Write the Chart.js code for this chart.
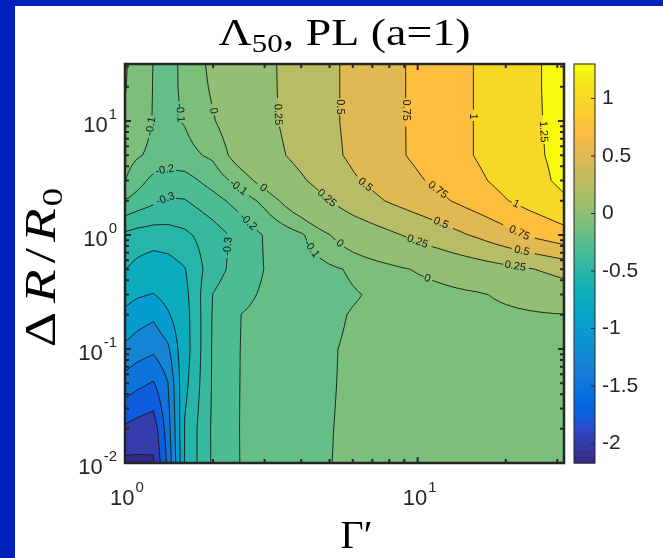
<!DOCTYPE html>
<html>
<head>
<meta charset="utf-8">
<script src="https://cdn.jsdelivr.net/npm/chart.js@4"></script>
<style>
  html, body { margin: 0; padding: 0; }
  body { width: 663px; height: 558px; background: #0021b9; position: relative; overflow: hidden; }
  #wrap { position: absolute; left: 15px; top: 6px; width: 648px; height: 552px; background: #fff; }
</style>
</head>
<body>
<div id="wrap"><canvas id="chart" width="648" height="552"></canvas></div>
<script>
// --- data grid ---
const gammaVals = [1, 1.1, 1.25, 1.4, 1.6, 2, 2.5, 3, 4, 6, 8, 12, 16, 24, 31.62];
const dRVals = [0.01, 0.02, 0.05, 0.1, 0.2, 0.3, 0.5, 1, 2, 3, 5, 10, 20, 31.62];
// Lambda_50, one row per dRVals entry (bottom row first), one column per gammaVals entry
const lambdaVals = [
  [-2.06, -2.05, -2.03, -1.45, -0.49, -0.283, -0.195, -0.164, -0.115, -0.09, -0.075, -0.06, -0.05, -0.04, -0.035],
  [-1.79, -1.85, -1.9, -1.375, -0.49, -0.282, -0.194, -0.164, -0.117, -0.09, -0.075, -0.06, -0.05, -0.04, -0.035],
  [-1.36, -1.44, -1.52, -1.26, -0.53, -0.286, -0.195, -0.167, -0.122, -0.09, -0.075, -0.06, -0.05, -0.04, -0.03],
  [-1.05, -1.13, -1.2, -1.05, -0.55, -0.286, -0.196, -0.169, -0.125, -0.09, -0.075, -0.06, -0.045, -0.03, -0.02],
  [-0.8, -0.88, -0.95, -0.78, -0.544, -0.29, -0.199, -0.176, -0.139, -0.095, -0.078, -0.055, -0.038, -0.015, -0.003],
  [-0.664, -0.72, -0.76, -0.66, -0.53, -0.297, -0.224, -0.187, -0.154, -0.107, -0.079, -0.042, -0.015, 0.056, 0.119],
  [-0.498, -0.53, -0.56, -0.55, -0.505, -0.342, -0.251, -0.198, -0.152, -0.088, -0.036, 0.052, 0.128, 0.233, 0.327],
  [-0.42, -0.44, -0.45, -0.44, -0.42, -0.346, -0.263, -0.193, -0.113, 0.086, 0.207, 0.39, 0.534, 0.777, 0.913],
  [-0.205, -0.24, -0.28, -0.31, -0.305, -0.238, -0.154, -0.071, 0.106, 0.369, 0.52, 0.707, 0.868, 1.087, 1.22],
  [-0.098, -0.16, -0.23, -0.25, -0.24, -0.158, -0.055, 0.051, 0.222, 0.47, 0.616, 0.81, 0.96, 1.163, 1.3],
  [-0.06, -0.09, -0.12, -0.14, -0.13, -0.082, 0.071, 0.16, 0.315, 0.543, 0.688, 0.879, 1.015, 1.2, 1.31],
  [-0.01, -0.05, -0.105, -0.12, -0.094, -0.009, 0.1, 0.194, 0.346, 0.552, 0.69, 0.879, 1.015, 1.205, 1.32],
  [0.005, -0.045, -0.103, -0.118, -0.088, 0.018, 0.118, 0.2, 0.346, 0.552, 0.69, 0.879, 1.015, 1.205, 1.33],
  [0.01, -0.04, -0.102, -0.115, -0.0895, 0.033, 0.127, 0.203, 0.346, 0.552, 0.69, 0.879, 1.015, 1.205, 1.33]
];
const levels = [-2, -1.75, -1.5, -1.25, -1, -0.75, -0.5, -0.4, -0.3, -0.2, -0.1, 0, 0.25, 0.5, 0.75, 1, 1.25];
const labelLevels = [-0.3, -0.2, -0.1, 0, 0.25, 0.5, 0.75, 1, 1.25];
const xTicks = [1, 10];
const xTickExp = ['0', '1'];
const yTicks = [0.01, 0.1, 1, 10];
const yTickExp = ['-2', '-1', '0', '1'];
const cbarTicks = [-2, -1.5, -1, -0.5, 0, 0.5, 1];
const cbarMin = -2.17, cbarMax = 1.3;

// parula colormap (64 steps)
const parula = [
  [0.2081,0.1663,0.5292],[0.2116,0.1898,0.5777],[0.2123,0.2138,0.6270],[0.2081,0.2386,0.6771],
  [0.1959,0.2645,0.7279],[0.1707,0.2919,0.7792],[0.1253,0.3242,0.8303],[0.0591,0.3598,0.8683],
  [0.0117,0.3875,0.8820],[0.0060,0.4086,0.8828],[0.0165,0.4266,0.8786],[0.0329,0.4430,0.8720],
  [0.0498,0.4586,0.8641],[0.0629,0.4737,0.8554],[0.0723,0.4887,0.8467],[0.0779,0.5040,0.8384],
  [0.0793,0.5200,0.8312],[0.0749,0.5375,0.8263],[0.0641,0.5570,0.8240],[0.0488,0.5772,0.8228],
  [0.0343,0.5966,0.8199],[0.0265,0.6137,0.8135],[0.0239,0.6287,0.8038],[0.0231,0.6418,0.7913],
  [0.0228,0.6535,0.7768],[0.0267,0.6642,0.7607],[0.0384,0.6743,0.7436],[0.0590,0.6838,0.7254],
  [0.0843,0.6928,0.7062],[0.1133,0.7015,0.6859],[0.1453,0.7098,0.6646],[0.1801,0.7177,0.6424],
  [0.2178,0.7250,0.6193],[0.2586,0.7317,0.5954],[0.3022,0.7376,0.5712],[0.3482,0.7424,0.5473],
  [0.3953,0.7459,0.5244],[0.4420,0.7481,0.5033],[0.4871,0.7491,0.4840],[0.5300,0.7491,0.4661],
  [0.5709,0.7485,0.4494],[0.6099,0.7473,0.4337],[0.6473,0.7456,0.4188],[0.6834,0.7435,0.4044],
  [0.7184,0.7411,0.3905],[0.7525,0.7384,0.3768],[0.7858,0.7356,0.3633],[0.8185,0.7327,0.3498],
  [0.8507,0.7299,0.3360],[0.8824,0.7274,0.3217],[0.9139,0.7258,0.3063],[0.9450,0.7261,0.2886],
  [0.9739,0.7314,0.2666],[0.9938,0.7455,0.2403],[0.9990,0.7653,0.2164],[0.9955,0.7861,0.1967],
  [0.9880,0.8066,0.1794],[0.9789,0.8271,0.1633],[0.9697,0.8481,0.1475],[0.9626,0.8705,0.1309],
  [0.9589,0.8949,0.1132],[0.9598,0.9218,0.0948],[0.9661,0.9514,0.0755],[0.9763,0.9831,0.0538]
];

const SANS = '"Liberation Sans", Arial, Helvetica, sans-serif';
const SERIF = '"Liberation Serif", "Times New Roman", serif';

function cmap(val) {
  let idx = Math.floor((val - cbarMin) / (cbarMax - cbarMin) * parula.length);
  idx = Math.max(0, Math.min(parula.length - 1, idx));
  return parula[idx];
}
function bandColor(z) {
  let k = -1;
  for (let i = 0; i < levels.length; i++) if (z >= levels[i]) k = i;
  return cmap(k < 0 ? cbarMin : levels[k]);
}

// interpolation on the grid, in log space
const gx = gammaVals.map(Math.log10);
const gy = dRVals.map(Math.log10);
function findCell(arr, v) {
  let i = 0;
  while (i < arr.length - 2 && v > arr[i + 1]) i++;
  const t = Math.max(0, Math.min(1, (v - arr[i]) / (arr[i + 1] - arr[i])));
  return [i, t];
}
function interp(u, v) {
  const [i, tx] = findCell(gx, u);
  const [j, ty] = findCell(gy, v);
  const z = lambdaVals;
  return z[j][i] * (1 - tx) * (1 - ty) + z[j][i + 1] * tx * (1 - ty) +
         z[j + 1][i] * (1 - tx) * ty + z[j + 1][i + 1] * tx * ty;
}

// refined grid for the contour lines
const R = 6;
function refine(arr) {
  const out = [];
  for (let i = 0; i < arr.length - 1; i++)
    for (let s = 0; s < R; s++) out.push(arr[i] + (arr[i + 1] - arr[i]) * s / R);
  out.push(arr[arr.length - 1]);
  return out;
}
const ru = refine(gx), rv = refine(gy);
const rz = rv.map(v => ru.map(u => interp(u, v)));

function contourSegments(L) {
  const segs = [];
  for (let j = 0; j < rv.length - 1; j++) {
    for (let i = 0; i < ru.length - 1; i++) {
      const a = rz[j][i], b = rz[j][i + 1], c = rz[j + 1][i + 1], d = rz[j + 1][i];
      const pt = (k, z1, z2, u1, v1, u2, v2) => {
        const t = (L - z1) / (z2 - z1);
        return { k, u: u1 + (u2 - u1) * t, v: v1 + (v2 - v1) * t };
      };
      const E = {};
      if ((a >= L) !== (b >= L)) E.b = pt('h' + i + '_' + j, a, b, ru[i], rv[j], ru[i + 1], rv[j]);
      if ((b >= L) !== (c >= L)) E.r = pt('v' + (i + 1) + '_' + j, b, c, ru[i + 1], rv[j], ru[i + 1], rv[j + 1]);
      if ((d >= L) !== (c >= L)) E.t = pt('h' + i + '_' + (j + 1), d, c, ru[i], rv[j + 1], ru[i + 1], rv[j + 1]);
      if ((a >= L) !== (d >= L)) E.l = pt('v' + i + '_' + j, a, d, ru[i], rv[j], ru[i], rv[j + 1]);
      const keys = Object.keys(E);
      if (keys.length === 2) segs.push([E[keys[0]], E[keys[1]]]);
      else if (keys.length === 4) {
        const centerUp = (a + b + c + d) / 4 >= L;
        if ((a >= L) !== centerUp) { segs.push([E.l, E.b]); segs.push([E.r, E.t]); }
        else { segs.push([E.b, E.r]); segs.push([E.t, E.l]); }
      }
    }
  }
  return segs;
}

function chainSegments(segs) {
  const byKey = new Map();
  segs.forEach((s, idx) => {
    for (const e of s) {
      if (!byKey.has(e.k)) byKey.set(e.k, []);
      byKey.get(e.k).push(idx);
    }
  });
  const used = new Array(segs.length).fill(false);
  const lines = [];
  const walk = (line, atEnd) => {
    let cur = atEnd ? line[line.length - 1] : line[0];
    while (true) {
      const cand = (byKey.get(cur.k) || []).find(id => !used[id]);
      if (cand === undefined) break;
      used[cand] = true;
      const s = segs[cand];
      const next = s[0].k === cur.k ? s[1] : s[0];
      if (atEnd) line.push(next); else line.unshift(next);
      cur = next;
    }
  };
  for (let s0 = 0; s0 < segs.length; s0++) {
    if (used[s0]) continue;
    used[s0] = true;
    const line = [segs[s0][0], segs[s0][1]];
    walk(line, true);
    walk(line, false);
    lines.push(line);
  }
  return lines;
}

function pointAt(pts, cum, s) {
  s = Math.max(0, Math.min(cum[cum.length - 1], s));
  let i = 0;
  while (i < cum.length - 2 && cum[i + 1] < s) i++;
  const seg = cum[i + 1] - cum[i] || 1;
  const t = (s - cum[i]) / seg;
  return [pts[i][0] + (pts[i + 1][0] - pts[i][0]) * t, pts[i][1] + (pts[i + 1][1] - pts[i][1]) * t];
}

const contourPlugin = {
  id: 'contour',
  beforeDatasetsDraw(chart) {
    const { ctx, chartArea: a, scales } = chart;
    const xs = scales.x, ys = scales.y;
    const x0 = Math.round(a.left), y0 = Math.round(a.top);
    const w = Math.round(a.right) - x0, h = Math.round(a.bottom) - y0;

    // filled bands
    const img = ctx.createImageData(w, h);
    const us = [];
    for (let c = 0; c < w; c++) us.push(Math.log10(xs.getValueForPixel(x0 + c + 0.5)));
    for (let r = 0; r < h; r++) {
      const v = Math.log10(ys.getValueForPixel(y0 + r + 0.5));
      for (let c = 0; c < w; c++) {
        const col = bandColor(interp(us[c], v));
        const k = (r * w + c) * 4;
        img.data[k] = Math.round(col[0] * 255);
        img.data[k + 1] = Math.round(col[1] * 255);
        img.data[k + 2] = Math.round(col[2] * 255);
        img.data[k + 3] = 255;
      }
    }
    ctx.putImageData(img, x0, y0);

    // contour lines with inline labels (labels only in the upper part, as in the figure)
    const labelLimit = a.top + 0.6 * (a.bottom - a.top);
    ctx.save();
    ctx.beginPath();
    ctx.rect(a.left, a.top, a.right - a.left, a.bottom - a.top);
    ctx.clip();
    ctx.strokeStyle = '#151515';
    ctx.fillStyle = '#151515';
    ctx.lineWidth = 0.9;
    ctx.font = '11px ' + SANS;
    levels.forEach(L => {
      const lines = chainSegments(contourSegments(L));
      const text = String(L);
      const half = ctx.measureText(text).width / 2 + 3;
      lines.forEach(line => {
        const pts = line.map(p => [xs.getPixelForValue(Math.pow(10, p.u)), ys.getPixelForValue(Math.pow(10, p.v))]);
        const cum = [0];
        for (let i = 1; i < pts.length; i++)
          cum.push(cum[i - 1] + Math.hypot(pts[i][0] - pts[i - 1][0], pts[i][1] - pts[i - 1][1]));
        const len = cum[cum.length - 1];
        let labels = [];
        if (labelLevels.includes(L) && len > 40) {
          const n = Math.max(1, Math.round(len / 95));
          for (let k = 0; k < n; k++) labels.push((k + 0.5) * len / n);
          labels = labels.filter(s => pointAt(pts, cum, s)[1] < labelLimit);
        }
        ctx.beginPath();
        let drawing = false;
        for (let i = 0; i < pts.length - 1; i++) {
          const mid = (cum[i] + cum[i + 1]) / 2;
          if (labels.some(s => Math.abs(mid - s) < half)) { drawing = false; continue; }
          if (!drawing) { ctx.moveTo(pts[i][0], pts[i][1]); drawing = true; }
          ctx.lineTo(pts[i + 1][0], pts[i + 1][1]);
        }
        ctx.stroke();
        labels.forEach(s => {
          const p = pointAt(pts, cum, s);
          const p1 = pointAt(pts, cum, s - 7), p2 = pointAt(pts, cum, s + 7);
          let ang = Math.atan2(p2[1] - p1[1], p2[0] - p1[0]);
          if (ang > Math.PI / 2) ang -= Math.PI;
          if (ang <= -Math.PI / 2) ang += Math.PI;
          ctx.save();
          ctx.translate(p[0], p[1]);
          ctx.rotate(ang);
          ctx.textAlign = 'center';
          ctx.textBaseline = 'middle';
          ctx.fillText(text, 0, 0);
          ctx.restore();
        });
      });
    });
    ctx.restore();
  },
  afterDraw(chart) {
    const { ctx, chartArea: a, scales } = chart;
    const xs = scales.x, ys = scales.y, cs = scales.cbar;
    ctx.save();
    ctx.strokeStyle = '#262626';
    ctx.fillStyle = '#262626';

    // ticks, inward on all four sides
    const minorOf = (min, max) => {
      const out = [];
      for (let e = Math.floor(Math.log10(min)); e <= Math.ceil(Math.log10(max)); e++)
        for (let m = 1; m < 10; m++) {
          const v = m * Math.pow(10, e);
          if (v >= min * 0.999 && v <= max * 1.001) out.push([v, m === 1]);
        }
      return out;
    };
    ctx.lineWidth = 2;
    ctx.beginPath();
    minorOf(xs.min, xs.max).forEach(([v, major]) => {
      const px = xs.getPixelForValue(v), len = major ? 6 : 4;
      ctx.moveTo(px, a.bottom); ctx.lineTo(px, a.bottom - len);
      ctx.moveTo(px, a.top); ctx.lineTo(px, a.top + len);
    });
    minorOf(ys.min, ys.max).forEach(([v, major]) => {
      const py = ys.getPixelForValue(v), len = major ? 6 : 4;
      ctx.moveTo(a.left, py); ctx.lineTo(a.left + len, py);
      ctx.moveTo(a.right, py); ctx.lineTo(a.right - len, py);
    });
    ctx.stroke();
    ctx.lineWidth = 2.5;
    ctx.strokeRect(a.left, a.top, a.right - a.left, a.bottom - a.top);

    // power-of-ten tick labels
    const pow10 = (exp, x, y, align) => {
      ctx.font = '22px ' + SANS;
      const wb = ctx.measureText('10').width;
      ctx.font = '15px ' + SANS;
      const we = ctx.measureText(exp).width;
      const total = wb + 1 + we;
      const left = align === 'right' ? x - total : x - total / 2;
      ctx.textAlign = 'left';
      ctx.textBaseline = 'alphabetic';
      ctx.font = '22px ' + SANS;
      ctx.fillText('10', left, y);
      ctx.font = '15px ' + SANS;
      ctx.fillText(exp, left + wb + 1, y - 13);
    };
    xTicks.forEach((v, i) => pow10(xTickExp[i], xs.getPixelForValue(v) + 2, a.bottom + 42, 'center'));
    yTicks.forEach((v, i) => pow10(yTickExp[i], a.left - 8, ys.getPixelForValue(v) + 11, 'right'));

    // colorbar
    const cbL = a.right + 10, cbW = 21;
    const n = parula.length;
    for (let k = 0; k < n; k++) {
      const v0 = cbarMin + (cbarMax - cbarMin) * k / n, v1 = cbarMin + (cbarMax - cbarMin) * (k + 1) / n;
      const c = parula[k];
      ctx.fillStyle = `rgb(${Math.round(c[0] * 255)},${Math.round(c[1] * 255)},${Math.round(c[2] * 255)})`;
      const ya = cs.getPixelForValue(v1), yb = cs.getPixelForValue(v0);
      ctx.fillRect(cbL, ya - 0.5, cbW, yb - ya + 1);
    }
    ctx.strokeStyle = '#262626';
    ctx.lineWidth = 1;
    ctx.strokeRect(cbL, cs.top, cbW, cs.bottom - cs.top);
    ctx.fillStyle = '#262626';
    ctx.font = '21px ' + SANS;
    ctx.textAlign = 'left';
    ctx.textBaseline = 'middle';
    ctx.beginPath();
    cbarTicks.forEach(v => {
      const py = cs.getPixelForValue(v);
      ctx.moveTo(cbL + cbW, py); ctx.lineTo(cbL + cbW - 4, py);
      ctx.fillText(String(v), cbL + cbW + 7, py);
    });
    ctx.stroke();

    // title: Lambda_50, PL (a=1)
    ctx.fillStyle = '#000';
    ctx.textBaseline = 'alphabetic';
    const parts = [['\u039B', 37, 0], ['50', 25, 7], [', PL (a=1)', 37, 0]];
    let tw = 0;
    parts.forEach(p => { ctx.font = p[1] + 'px ' + SERIF; p.push(ctx.measureText(p[0]).width); tw += p[3]; });
    const targetW = 252;
    ctx.save();
    ctx.translate((a.left + a.right) / 2 - targetW / 2, 39);
    ctx.scale(targetW / tw, 1);
    let cx = 0;
    parts.forEach(p => { ctx.font = p[1] + 'px ' + SERIF; ctx.fillText(p[0], cx, p[2]); cx += p[3]; });
    ctx.restore();

    // x axis title: Gamma'
    ctx.font = '40px ' + SERIF;
    ctx.textAlign = 'center';
    ctx.fillText('\u0393\u2032', (a.left + a.right) / 2 + 12, 542);

    // y axis title: Delta R / R_0 (glyphs slightly widened, rest as letter spacing)
    const yparts = [['\u0394', 'normal', 44, 0], ['R', 'italic', 44, 0], ['/', 'normal', 44, 0], ['R', 'italic', 44, 0], ['0', 'normal', 30, 7]];
    const gapAfter = [9, 6, 6, 2, 0];
    const stretch = 1.25;
    let yw = 0;
    yparts.forEach((p, i) => { ctx.font = p[1] + ' ' + p[2] + 'px ' + SERIF; p.push(ctx.measureText(p[0]).width * stretch); yw += p[4] + gapAfter[i]; });
    ctx.save();
    ctx.translate(40, (a.top + a.bottom) / 2 + 4);
    ctx.rotate(-Math.PI / 2);
    ctx.textAlign = 'left';
    let cy = -yw / 2;
    yparts.forEach((p, i) => {
      ctx.font = p[1] + ' ' + p[2] + 'px ' + SERIF;
      ctx.save();
      ctx.translate(cy, p[3]);
      ctx.scale(stretch, 1);
      ctx.fillText(p[0], 0, 0);
      ctx.restore();
      cy += p[4] + gapAfter[i];
    });
    ctx.restore();

    ctx.restore();
  }
};

new Chart(document.getElementById('chart'), {
  type: 'scatter',
  data: { datasets: [] },
  options: {
    responsive: false,
    animation: false,
    devicePixelRatio: 1,
    layout: { padding: { left: 110, top: 58, right: 99, bottom: 95 } },
    plugins: { legend: { display: false }, tooltip: { enabled: false }, title: { display: false } },
    scales: {
      x: { type: 'logarithmic', min: 1, max: 31.62, display: false },
      y: { type: 'logarithmic', min: 0.01, max: 31.62, display: false },
      cbar: { type: 'linear', position: 'right', min: cbarMin, max: cbarMax, display: false }
    }
  },
  plugins: [contourPlugin]
});
</script>
</body>
</html>
